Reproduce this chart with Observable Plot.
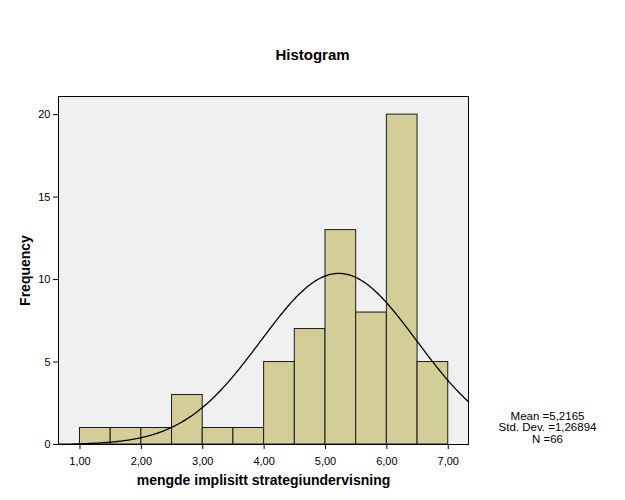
<!DOCTYPE html>
<html>
<head>
<meta charset="utf-8">
<script src="https://cdn.jsdelivr.net/npm/d3@7"></script>
<script src="https://cdn.jsdelivr.net/npm/@observablehq/plot@0.6"></script>
<style>
  html, body { margin: 0; padding: 0; background: #fff; }
  #chart svg { display: block; }
</style>
</head>
<body>
<div id="chart"></div>
<script>
// Bin lower edges (bin width 0.5) and frequencies
const binLower = [1.0, 1.5, 2.0, 2.5, 3.0, 3.5, 4.0, 4.5, 5.0, 5.5, 6.0, 6.5];
const binWidth = 0.5;
const counts   = [1, 1, 1, 3, 1, 1, 5, 7, 13, 8, 20, 5];
const xTicks = [1, 2, 3, 4, 5, 6, 7];
const yTicks = [0, 5, 10, 15, 20];
// Summary statistics shown in the legend
const meanText = "5,2165";
const sdText = "1,26894";
const meanVal = 5.2165;
const sdVal = 1.26894;
const nVal = 66;

const bins = binLower.map((x, i) => ({x1: x, x2: x + binWidth, count: counts[i]}));

// Normal curve from the stated mean / SD, scaled to counts
const xMin = 0.65, xMax = 7.33;
const curve = d3.range(0, 301).map(i => {
  const x = xMin + (xMax - xMin) * i / 300;
  const z = (x - meanVal) / sdVal;
  return {x, y: nVal * binWidth * Math.exp(-0.5 * z * z) / (sdVal * Math.sqrt(2 * Math.PI))};
});

const fmt = d => d.toFixed(2).replace(".", ",");
const font = "Liberation Sans, Arial, sans-serif";

const chart = Plot.plot({
  width: 625,
  height: 500,
  marginLeft: 58,
  marginRight: 157,
  marginTop: 96,
  marginBottom: 56,
  style: {fontFamily: font, fontSize: "11px", color: "#000", background: "#fff"},
  x: {domain: [xMin, xMax]},
  y: {domain: [0, 21.1]},
  marks: [
    Plot.frame({fill: "#f0f0f0", stroke: null}),
    Plot.rect(bins, {x1: "x1", x2: "x2", y1: 0, y2: "count", fill: "#d3ce98", stroke: "#1a1a1a", strokeWidth: 1}),
    Plot.line(curve, {x: "x", y: "y", stroke: "#000", strokeWidth: 1.3, clip: true}),
    Plot.frame({stroke: "#000", strokeWidth: 1}),
    Plot.axisX(xTicks, {tickSize: 5, tickPadding: 8, tickFormat: fmt, label: null, fontSize: 11}),
    Plot.axisY(yTicks, {tickSize: 5, tickPadding: 3, label: null, fontSize: 11}),
    Plot.text(["Histogram"], {frameAnchor: "top", dx: 49, dy: -47, fontSize: 15, fontWeight: "bold"}),
    Plot.text(["Frequency"], {frameAnchor: "left", textAnchor: "middle", dx: -33, rotate: -90, fontSize: 14, fontWeight: "bold"}),
    Plot.text(["mengde implisitt strategiundervisning"], {frameAnchor: "bottom", dy: 40, fontSize: 14, fontWeight: "bold"}),
    Plot.text([`Mean =${meanText}\nStd. Dev. =${sdText}\nN =${nVal}`],
      {frameAnchor: "bottom-right", dx: 79, dy: -17, textAnchor: "middle", lineAnchor: "middle", lineHeight: 1.0, fontSize: 11.5})
  ]
});

document.getElementById("chart").appendChild(chart);
</script>
</body>
</html>
